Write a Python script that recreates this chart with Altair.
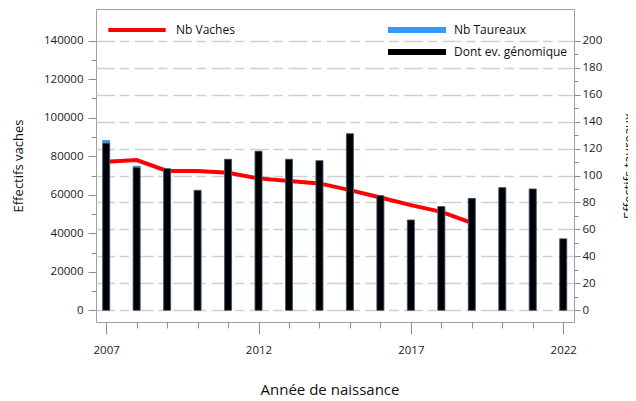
import altair as alt
import pandas as pd

# ---- data ----
years = list(range(2007, 2023))
annees_vaches = list(range(2007, 2020))
nb_vaches = [77100, 78000, 72400, 72400, 71400, 68500, 67100, 65900, 62400, 58600, 54600, 51100, 45400]
nb_taureaux = [126, 107, 105, 89, 112, 118, 112, 111, 131, 85, 67, 77, 83, 91, 90, 53]
dont_genomique = [124, 106, 105, 89, 112, 118, 112, 111, 131, 85, 67, 77, 83, 91, 90, 53]

serie_vaches = "Nb Vaches"
series_bars = ["Nb Taureaux", "Dont ev. génomique"]
bar_colors = ["#3399ff", "#000000"]

x_major = [2007, 2012, 2017, 2022]
left_major = list(range(0, 140001, 20000))
left_minor = list(range(0, 140001, 10000))
right_major = list(range(0, 201, 20))
right_minor = list(range(0, 201, 10))

FONT = "Open Sans"
W, H = 478, 313

df_line = pd.DataFrame({"annee": annees_vaches, "valeur": nb_vaches, "serie": serie_vaches})
df_bars = pd.concat([
    pd.DataFrame({"annee": years, "valeur": nb_taureaux, "serie": series_bars[0]}),
    pd.DataFrame({"annee": years, "valeur": dont_genomique, "serie": series_bars[1]}),
], ignore_index=True)

x_scale = alt.Scale(domain=[2006.83, 2022.19], nice=False)
yl_scale = alt.Scale(domain=[-6076, 156463], nice=False)
yr_scale = alt.Scale(domain=[-8.68, 223.52], nice=False)

common_axis = dict(domain=False, labelFont=FONT, labelFontSize=11.5, labelColor="#1a1a1a",
                   tickColor="#8c8c8c", tickWidth=1, titleFont=FONT, titleFontWeight="normal",
                   titleColor="#111111")

line = alt.Chart(df_line).mark_line(strokeWidth=4).encode(
    x=alt.X("annee:Q", scale=x_scale,
            axis=alt.Axis(orient="bottom", values=x_major, format="d", tickSize=12, labelPadding=10,
                          grid=False, title="Année de naissance", titleFontSize=15,
                          titleX=233.5, titleY=60, titleBaseline="top", titleAlign="center",
                          **common_axis)),
    y=alt.Y("valeur:Q", scale=yl_scale,
            axis=alt.Axis(orient="left", values=left_major, format="d", tickSize=8, labelPadding=5,
                          grid=False, title="Effectifs vaches", titleFontSize=13,
                          titleAngle=270, titleX=-83.7, titleY=H / 2, titleBaseline="top",
                          titleAlign="center", **common_axis)),
    stroke=alt.Stroke("serie:N", scale=alt.Scale(domain=[serie_vaches], range=["#ff0000"]),
                      legend=alt.Legend(title=None, orient="none", legendX=33, legendY=13, padding=0,
                                        symbolType="M-5,0H5", symbolSize=131.8, symbolStrokeWidth=4,
                                        labelOffset=31, labelFont=FONT, labelFontSize=12,
                                        labelColor="#111111")),
)

bars = alt.Chart(df_bars).mark_bar(size=7, stroke="#4f6d8c", strokeWidth=0.6).encode(
    x=alt.X("annee:Q", scale=x_scale,
            axis=alt.Axis(orient="bottom", values=years, labels=False, tickSize=6, grid=False,
                          title=None, **common_axis)),
    y=alt.Y("valeur:Q", scale=yr_scale, stack=None,
            axis=alt.Axis(orient="right", values=right_major, format="d", tickSize=6, labelPadding=2,
                          grid=True, gridColor="#d0d0d0", gridWidth=1.5,
                          gridDash=[19, 5.5, 9.5, 4.5], gridDashOffset=2.5,
                          title="Effectifs taureaux", titleFontSize=13,
                          titleAngle=270, titleX=48.7, titleY=H / 2, titleBaseline="top",
                          titleAlign="center", **common_axis)),
    fill=alt.Fill("serie:N", scale=alt.Scale(domain=series_bars, range=bar_colors),
                  legend=alt.Legend(title=None, orient="none", legendX=315, legendY=15, padding=0,
                                    symbolType="M-5,-0.5H5V0.5H-5Z", symbolSize=134.56,
                                    symbolStrokeWidth=0, rowPadding=10, labelOffset=31,
                                    labelFont=FONT, labelFontSize=12, labelColor="#111111")),
)

minor_left = alt.Chart(df_line).mark_point(opacity=0).encode(
    x=alt.X("annee:Q", scale=x_scale, axis=None),
    y=alt.Y("valeur:Q", scale=yl_scale,
            axis=alt.Axis(orient="left", values=left_minor, labels=False, tickSize=5, grid=False,
                          title=None, **common_axis)),
)

minor_right = alt.Chart(df_bars).mark_point(opacity=0).encode(
    x=alt.X("annee:Q", scale=x_scale, axis=None),
    y=alt.Y("valeur:Q", scale=yr_scale,
            axis=alt.Axis(orient="right", values=right_minor, labels=False, tickSize=4, grid=False,
                          title=None, **common_axis)),
)

chart = alt.layer(line, bars, minor_left, minor_right).resolve_scale(
    y="independent"
).resolve_axis(
    x="independent", y="independent"
).properties(
    width=W, height=H,
    autosize=alt.AutoSizeParams(type="none"),
    padding={"left": 88, "top": 1, "right": 54, "bottom": 78},
).configure_view(
    stroke="#a0a0a0", strokeWidth=1
)

chart.save("out.html", embed_options={"renderer": "svg", "actions": False})
